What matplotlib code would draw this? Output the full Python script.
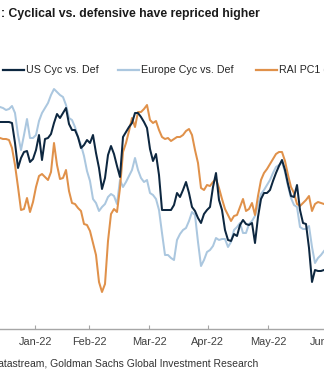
import matplotlib
matplotlib.use("Agg")
import matplotlib.pyplot as plt
from matplotlib import font_manager
from matplotlib.lines import Line2D

# Daily observations (index level, arbitrary units)
us_cyc_def = [208, 208, 208, 208, 207, 187, 162, 172, 178, 179, 168, 171, 180, 195, 170, 191,
              192, 196, 207, 216, 212, 217, 222, 206, 200, 200, 193, 182, 185, 190, 187, 195,
              177, 162, 141, 152, 175, 184, 176, 164, 153, 193, 198, 203, 207, 217, 217, 213,
              208, 202, 181, 169, 176, 155, 120, 120, 120, 120, 125, 137, 133, 140, 148, 137,
              123, 119, 112, 107, 116, 120, 123, 143, 157, 130, 120, 100, 90, 89, 96, 94,
              105, 110, 106, 105, 107, 87, 113, 131, 137, 137, 140, 149, 157, 164, 170, 160,
              146, 134, 133, 145, 120, 107, 106, 82, 48, 60, 59, 59, 60]

europe_cyc_def = [223, 222, 220, 221, 224, 217, 195, 180, 195, 211, 192, 192, 195, 209, 217, 222,
                  227, 235, 241, 238, 235, 233, 225, 212, 210, 203, 193, 185, 174, 159, 149, 131,
                  127, 119, 123, 126, 133, 136, 134, 126, 150, 143, 148, 154, 160, 172, 160, 152,
                  148, 150, 137, 135, 131, 120, 97, 75, 75, 72, 70, 90, 96, 100, 102, 109,
                  118, 115, 88, 64, 70, 78, 80, 84, 92, 90, 91, 91, 83, 88, 100, 103,
                  107, 97, 97, 106, 109, 114, 125, 136, 140, 145, 150, 157, 163, 165, 168, 158,
                  144, 132, 125, 123, 103, 101, 101, 104, 83, 67, 72, 75, 79]

rai_pc1 = [192, 191, 191, 190, 182, 165, 143, 120, 121, 132, 118, 128, 143, 154, 156, 153,
           150, 158, 187, 165, 151, 152, 160, 139, 127, 126, 122, 119, 106, 105, 99, 87,
           75, 48, 38, 46, 89, 116, 121, 118, 142, 178, 187, 199, 212, 203, 218, 218,
           221, 225, 210, 207, 209, 200, 193, 191, 192, 189, 191, 193, 193, 195, 199, 201,
           195, 180, 167, 142, 140, 145, 144, 148, 151, 142, 131, 121, 115, 109, 114, 115,
           123, 131, 119, 121, 127, 115, 134, 150, 157, 161, 166, 171, 176, 178, 178, 169,
           155, 143, 137, 126, 124, 127, 130, 134, 119, 126, 128, 127, 126]

series_names = ["US Cyc vs. Def", "Europe Cyc vs. Def", "RAI PC1 (z-score)"]
series_colors = ["#0d2740", "#abc7df", "#e0914a"]

month_labels = ["Jan-22", "Feb-22", "Mar-22", "Apr-22", "May-22", "Jun-22"]
month_ticks = [11.7, 29.8, 49.7, 69.3, 89.3, 109.0]

title_text = ": Cyclical vs. defensive have repriced higher"
source_text = "Source: Datastream, Goldman Sachs Global Investment Research"

W, H = 324, 376
fig = plt.figure(figsize=(W / 100, H / 100), dpi=100)
fig.patch.set_facecolor("white")

installed = {f.name for f in font_manager.fontManager.ttflist}
if "Liberation Sans Narrow" in installed:
    head_family, head_size, src_size = "Liberation Sans Narrow", 10.7, 9.2
else:
    head_family, head_size, src_size = "Liberation Sans", 8.8, 7.5
body_family = "Liberation Sans"


def px(x, y):
    return x / W, 1 - y / H


# plot area: bottom spine at y=329 px, one observation every 3 px
ax_left, ax_right = -30, 354
ax_bottom, ax_top = 329, 80
ax = fig.add_axes([ax_left / W, 1 - ax_bottom / H,
                   (ax_right - ax_left) / W, (ax_bottom - ax_top) / H])
ax.set_xlim(-10, 118)
ax.set_ylim(1, 250)

xs = list(range(len(us_cyc_def)))
data = [us_cyc_def, europe_cyc_def, rai_pc1]
zorders = [3, 1, 2]
for vals, name, col, z in zip(data, series_names, series_colors, zorders):
    ax.plot(xs, vals, color=col, lw=1.45, label=name, zorder=z,
            solid_joinstyle="round", clip_on=False)

for s in ["top", "left", "right"]:
    ax.spines[s].set_visible(False)
ax.spines["bottom"].set_color("#a6a6a6")
ax.spines["bottom"].set_linewidth(1.0)
ax.set_yticks([])
ax.set_xticks(month_ticks)
ax.set_xticklabels(month_labels, fontsize=7.9, family=body_family, color="#404040")
ax.tick_params(axis="x", direction="in", length=3, width=0.8, color="#a6a6a6", pad=6)

# legend drawn as a single row of line + label entries
leg_y = 70
leg_starts = [3, 118, 256]
for x0, name, col in zip(leg_starts, series_names, series_colors):
    fig.add_artist(Line2D([x0 / W, (x0 + 21) / W], [1 - leg_y / H] * 2,
                          color=col, lw=1.6, transform=fig.transFigure))
    fig.text((x0 + 23) / W, 1 - leg_y / H, name, fontsize=7.7, family=body_family,
             color="#262626", va="center", ha="left")

tx, ty = px(1, 14)
fig.text(tx, ty, title_text, fontsize=head_size, family=head_family,
         fontweight="bold", color="#1a1a1a", va="center", ha="left")
sx, sy = px(258, 363)
fig.text(sx, sy, source_text, fontsize=src_size, family=head_family,
         color="#333333", va="center", ha="right")

fig.savefig("out.png", dpi=100, facecolor="white")
